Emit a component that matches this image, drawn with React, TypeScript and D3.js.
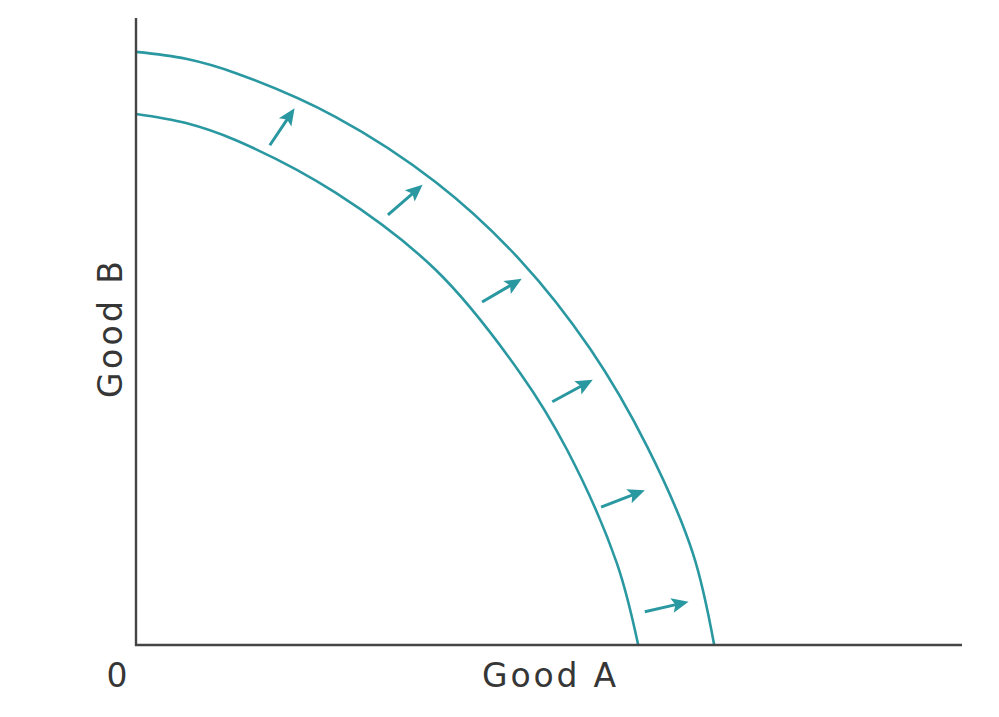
import React from "react";
import * as d3 from "d3";

const innerCurve: [number, number][] = [
  [0, 84.7], [6.05, 83.25], [12.1, 80.5], [24.2, 72.1], [36.3, 59.8], [46.5, 43.4],
  [52.2, 31.1], [58.2, 13.1], [60.8, 0],
];
const outerCurve: [number, number][] = [
  [0, 94.6], [6.05, 93.5], [12.1, 91.2], [24.2, 84.2], [36.3, 73.8], [46.5, 61.4],
  [55.0, 47.2], [61.9, 31.6], [67.4, 14.7], [70.0, 0],
];
const arrowsFrom: [number, number][] = [
  [16.2, 79.7], [30.5, 68.6], [41.9, 54.7], [50.4, 38.8], [56.3, 22.0], [61.6, 5.3],
];
const arrowsTo: [number, number][] = [
  [19.2, 85.6], [34.7, 73.4], [46.7, 58.4], [55.3, 42.3], [61.6, 24.7], [66.9, 6.9],
];
const xLabel = "Good A";
const yLabel = "Good B";
const originLabel = "0";

const W = 999;
const H = 717;
const TEAL = "#2a98a1";
const AXIS = "#454545";
const TEXT = "#363636";
const FONT = "'DejaVu Sans', 'Open Sans', sans-serif";

export default function App() {
  const x = d3.scaleLinear().domain([0, 100]).range([136, 962]);
  const y = d3.scaleLinear().domain([0, 100]).range([645, 18]);
  const line = d3
    .line<[number, number]>()
    .x((d) => x(d[0]))
    .y((d) => y(d[1]))
    .curve(d3.curveCatmullRom.alpha(0.5));

  const arrows = arrowsFrom.map((f, i) => {
    const t = arrowsTo[i];
    const x1 = x(f[0]), y1 = y(f[1]), x2 = x(t[0]), y2 = y(t[1]);
    const ang = Math.atan2(y2 - y1, x2 - x1);
    const headLen = 17;
    const headW = 7.5;
    const bx = x2 - headLen * Math.cos(ang);
    const by = y2 - headLen * Math.sin(ang);
    const px = -Math.sin(ang), py = Math.cos(ang);
    const head = `M${x2},${y2} L${bx + px * headW},${by + py * headW} L${bx + 3.5 * Math.cos(ang)},${by + 3.5 * Math.sin(ang)} L${bx - px * headW},${by - py * headW} Z`;
    return { x1, y1, bx: bx + 4 * Math.cos(ang), by: by + 4 * Math.sin(ang), head };
  });

  return (
    <svg width={W} height={H} style={{ position: "absolute", left: 0, top: 0, background: "#fff" }}>
      <rect x={0} y={0} width={W} height={H} fill="#fff" />
      <path d={line(innerCurve) || ""} fill="none" stroke={TEAL} strokeWidth={2.6} />
      <path d={line(outerCurve) || ""} fill="none" stroke={TEAL} strokeWidth={2.6} />
      {arrows.map((a, i) => (
        <g key={i}>
          <line x1={a.x1} y1={a.y1} x2={a.bx} y2={a.by} stroke={TEAL} strokeWidth={3} />
          <path d={a.head} fill={TEAL} />
        </g>
      ))}
      <line x1={x(0)} y1={y(100)} x2={x(0)} y2={y(0) + 1} stroke={AXIS} strokeWidth={2.4} />
      <line x1={x(0) - 1} y1={y(0)} x2={x(100)} y2={y(0)} stroke={AXIS} strokeWidth={2.4} />
      <text x={482} y={687} fontFamily={FONT} fontSize={33} fill={TEXT} textLength={134} lengthAdjust="spacing">
        {xLabel}
      </text>
      <text
        transform={`translate(122,398) rotate(-90)`}
        fontFamily={FONT}
        fontSize={33}
        fill={TEXT}
        textLength={137}
        lengthAdjust="spacing"
      >
        {yLabel}
      </text>
      <text x={117} y={687} fontFamily={FONT} fontSize={33} fill={TEXT} textAnchor="middle">
        {originLabel}
      </text>
    </svg>
  );
}
